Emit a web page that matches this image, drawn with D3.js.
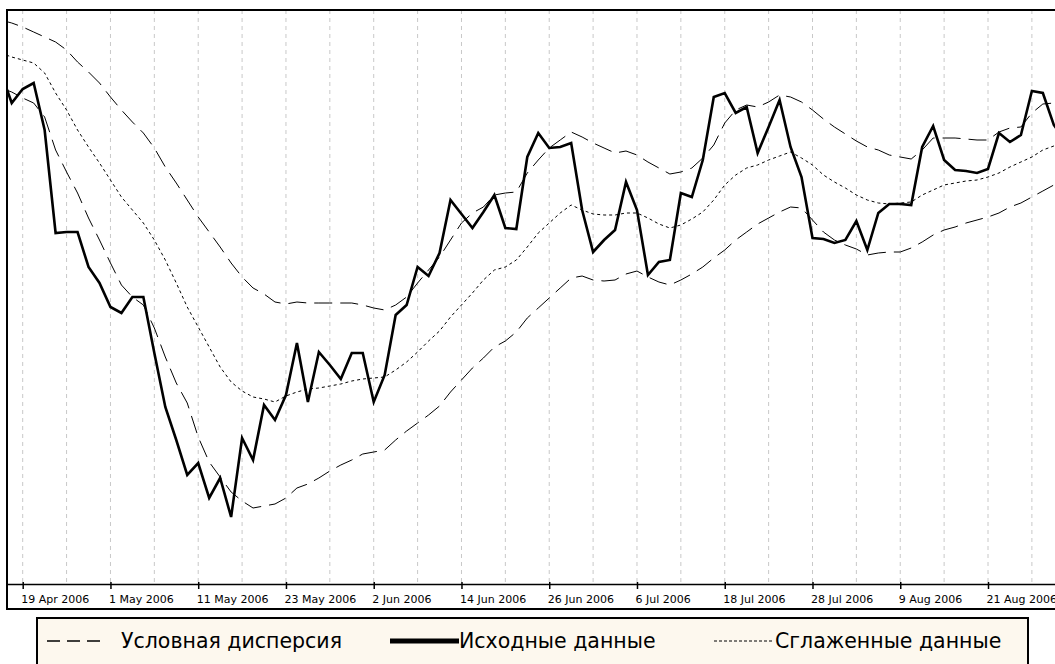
<!DOCTYPE html>
<html>
<head>
<meta charset="utf-8">
<script src="https://d3js.org/d3.v7.min.js"></script>
<style>
    body {
        margin: 0;
        background: #fff;
    }

    .x-axis .domain {
        stroke: #000;
        stroke-width: 1.5px;
    }

    .x-axis .tick line {
        stroke: #000;
        stroke-width: 1.5px;
    }

    .x-axis .tick text {
        font-family: "DejaVu Sans", sans-serif;
        font-size: 11px;
        fill: #000;
    }

    .legend text {
        font-family: "DejaVu Sans", sans-serif;
        font-size: 20.5px;
        fill: #000;
    }
</style>
</head>

<body>
<script>
    const width = 1055,
        height = 664;

    // first bar is Mon 17 Apr 2006, one bar per weekday
    const firstDay = new Date(2006, 3, 17);

    const raw = [
        51.2, 48.1, 49.5, 50.1, 45.4, 35.1, 35.2, 35.2, 31.7, 30.1,
        27.7, 27.1, 28.7, 28.7, 23.1, 17.7, 14.4, 10.9, 12.1, 8.6,
        10.6, 6.7, 14.6, 12.4, 17.9, 16.4, 18.9, 24.1, 18.2, 23.2,
        21.9, 20.5, 23.1, 23.1, 18.2, 20.9, 26.9, 27.9, 31.7, 30.8,
        33.1, 38.4, 37.0, 35.6, 37.2, 38.9, 35.6, 35.5, 42.7, 45.1,
        43.6, 43.7, 44.1, 37.4, 33.2, 34.4, 35.4, 40.2, 37.4, 30.9,
        32.2, 32.4, 39.1, 38.7, 42.4, 48.7, 49.1, 47.1, 47.7, 43.1,
        45.7, 48.4, 43.7, 40.7, 34.6, 34.5, 34.1, 34.4, 36.3, 33.4,
        37.1, 38.0, 38.0, 37.9, 43.7, 45.8, 42.4, 41.4, 41.3, 41.1,
        41.5, 45.1, 44.2, 44.9, 49.3, 49.1, 45.9, 44.4
    ];

    const upper = [
        56.4, 56.1, 55.7, 55.2, 54.7, 54.2, 53.4, 52.2, 51.2, 50.1,
        48.7, 47.4, 46.2, 45.1, 43.6, 41.7, 40.1, 38.4, 36.7, 35.2,
        33.7, 32.1, 30.7, 29.6, 29.0, 28.2, 28.0, 28.2, 28.1, 28.1,
        28.1, 28.1, 28.1, 27.9, 27.6, 27.4, 27.9, 28.7, 30.1, 31.4,
        32.7, 34.4, 36.1, 37.1, 37.7, 38.9, 39.1, 39.2, 41.1, 42.4,
        43.6, 44.4, 45.2, 44.7, 44.1, 43.6, 43.1, 43.3, 42.9, 42.2,
        41.6, 41.0, 41.2, 41.6, 42.6, 43.9, 46.1, 47.4, 47.9, 47.7,
        48.2, 48.9, 48.7, 48.2, 47.4, 46.5, 45.7, 45.0, 44.3, 43.7,
        43.4, 42.9, 42.7, 42.5, 43.4, 44.6, 44.6, 44.6, 44.5, 44.4,
        44.4, 45.2, 45.6, 45.7, 47.1, 48.0, 48.1, 48.1
    ];

    const smooth = [
        53.1, 52.7, 52.4, 52.1, 51.1, 49.1, 47.4, 45.4, 43.7, 42.1,
        40.4, 38.7, 37.4, 36.1, 34.4, 32.4, 30.1, 27.7, 25.7, 23.7,
        21.7, 20.2, 19.3, 18.7, 18.5, 18.2, 18.8, 19.2, 19.5, 19.6,
        19.8, 20.0, 20.3, 20.5, 20.6, 20.7, 21.4, 22.2, 23.2, 24.3,
        25.3, 26.7, 27.9, 29.1, 30.4, 31.4, 31.7, 32.4, 33.7, 35.1,
        36.1, 37.1, 37.9, 37.4, 37.0, 36.9, 36.9, 37.1, 37.1, 36.6,
        36.0, 35.6, 35.9, 36.5, 37.2, 38.4, 39.9, 40.9, 41.6, 41.9,
        42.4, 42.8, 43.2, 42.6, 41.9, 40.9, 40.2, 39.6, 38.9, 38.4,
        38.1, 38.0, 38.1, 38.2, 38.9, 39.4, 39.9, 40.1, 40.3, 40.4,
        40.7, 41.1, 41.7, 42.2, 42.7, 43.4, 43.8, 44.2
    ];

    const lower = [
        49.6, 49.2, 48.6, 48.1, 46.7, 43.4, 41.2, 39.1, 36.6, 34.4,
        32.1, 29.9, 28.7, 27.9, 25.6, 22.7, 20.1, 18.1, 14.7, 12.2,
        10.7, 9.2, 8.3, 7.6, 7.8, 8.0, 8.6, 9.6, 10.0, 10.6,
        11.3, 11.9, 12.4, 13.0, 13.2, 13.4, 14.4, 15.3, 16.1, 16.9,
        17.8, 19.2, 20.4, 21.6, 22.6, 23.7, 24.3, 25.2, 26.6, 27.6,
        28.6, 29.6, 30.6, 30.8, 30.4, 30.3, 30.4, 31.0, 31.3, 30.7,
        30.2, 29.9, 30.4, 31.0, 31.7, 32.6, 33.4, 34.4, 35.2, 36.0,
        36.6, 37.2, 37.7, 37.6, 36.4, 35.2, 34.4, 33.9, 33.5, 32.9,
        33.1, 33.2, 33.2, 33.6, 34.2, 34.9, 35.4, 35.7, 36.1, 36.4,
        36.7, 37.1, 37.7, 38.1, 38.7, 39.3, 39.9, 40.3
    ];

    const tickLabels = ["19 Apr 2006", "1 May 2006", "11 May 2006", "23 May 2006",
        "2 Jun 2006", "14 Jun 2006", "26 Jun 2006", "6 Jul 2006",
        "18 Jul 2006", "28 Jul 2006", "9 Aug 2006", "21 Aug 2006"];

    const legendLabels = ["Условная дисперсия", "Исходные данные", "Сглаженные данные"];

    const days = d3.timeDay.range(firstDay, d3.timeDay.offset(firstDay, 140))
        .filter(d => d.getDay() !== 0 && d.getDay() !== 6);
    const dayKey = d3.timeFormat("%Y-%m-%d");
    const parseLabel = d3.timeParse("%d %b %Y");
    const tickIdx = tickLabels.map(t => days.findIndex(d => dayKey(d) === dayKey(parseLabel(t))));

    const plot = { left: 7, top: 10, right: width, bottom: 584 };

    const x = d3.scaleLinear()
        .domain([tickIdx[0], tickIdx[tickIdx.length - 1]])
        .range([22.7, 988]);
    const y = d3.scaleLinear()
        .domain([0, 57.4])
        .range([plot.bottom, plot.top]);

    const svg = d3.select("body").append("svg")
        .attr("width", width)
        .attr("height", height);

    svg.append("defs").append("clipPath").attr("id", "plotclip")
        .append("rect")
        .attr("x", plot.left)
        .attr("y", plot.top)
        .attr("width", plot.right - plot.left)
        .attr("height", plot.bottom - plot.top);

    // vertical grid, every 4 bars
    const gridIdx = d3.range(tickIdx[0], raw.length, 4);
    svg.append("g").selectAll("line")
        .data(gridIdx)
        .join("line")
        .attr("x1", d => x(d))
        .attr("x2", d => x(d))
        .attr("y1", plot.top)
        .attr("y2", plot.bottom)
        .attr("stroke", "#c8c8c8")
        .attr("stroke-width", 1)
        .attr("stroke-dasharray", "4,4");

    const line = d3.line()
        .x((d, i) => x(i))
        .y(d => y(d));

    const series = svg.append("g").attr("clip-path", "url(#plotclip)");
    series.append("path").datum(upper)
        .attr("d", line).attr("fill", "none")
        .attr("stroke", "#000").attr("stroke-width", 1)
        .attr("stroke-dasharray", "18,8");
    series.append("path").datum(lower)
        .attr("d", line).attr("fill", "none")
        .attr("stroke", "#000").attr("stroke-width", 1)
        .attr("stroke-dasharray", "18,8");
    series.append("path").datum(smooth)
        .attr("d", line).attr("fill", "none")
        .attr("stroke", "#000").attr("stroke-width", 1)
        .attr("stroke-dasharray", "3,3");
    series.append("path").datum(raw)
        .attr("d", line).attr("fill", "none")
        .attr("stroke", "#000").attr("stroke-width", 2.6)
        .attr("stroke-linejoin", "miter");

    // x axis
    const xAxis = svg.append("g")
        .attr("class", "x-axis")
        .attr("transform", `translate(0,${plot.bottom})`)
        .call(d3.axisBottom(x)
            .tickValues(tickIdx)
            .tickFormat((d, i) => tickLabels[i])
            .tickSizeInner(5)
            .tickSizeOuter(0));
    xAxis.select(".domain").attr("d", `M${plot.left},0.5H${plot.right}`);
    xAxis.selectAll(".tick line").attr("y1", -2);
    xAxis.selectAll(".tick text")
        .attr("text-anchor", "start")
        .attr("x", -2)
        .attr("y", 11);

    // frame
    svg.append("path")
        .attr("d", `M${plot.right},${plot.top}H${plot.left}V609H${plot.right}`)
        .attr("fill", "none")
        .attr("stroke", "#000")
        .attr("stroke-width", 2);

    // legend
    const legend = svg.append("g").attr("class", "legend");
    legend.append("rect")
        .attr("x", 37).attr("y", 618)
        .attr("width", 991).attr("height", 70)
        .attr("fill", "#fdf8ee")
        .attr("stroke", "#000")
        .attr("stroke-width", 2);

    const ly = 641;
    const items = [
        { x1: 47, x2: 101, tx: 121, dash: "13,7", w: 1.5 },
        { x1: 390, x2: 459, tx: 459, dash: null, w: 5 },
        { x1: 714, x2: 772, tx: 775, dash: "3,2", w: 1 }
    ];
    items.forEach((it, k) => {
        legend.append("line")
            .attr("x1", it.x1).attr("x2", it.x2)
            .attr("y1", ly).attr("y2", ly)
            .attr("stroke", "#000")
            .attr("stroke-width", it.w)
            .attr("stroke-dasharray", it.dash);
        legend.append("text")
            .attr("x", it.tx)
            .attr("y", ly + 7)
            .text(legendLabels[k]);
    });
</script>
</body>

</html>
